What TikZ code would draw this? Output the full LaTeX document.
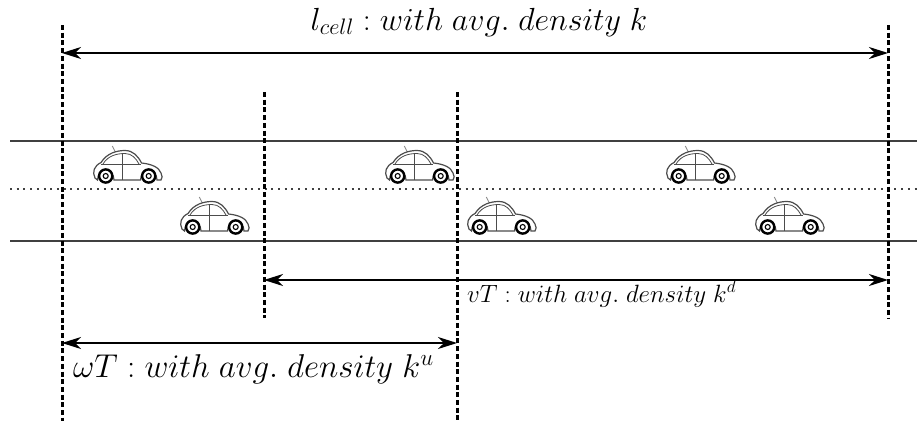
\RequirePackage{fix-cm}
\documentclass[tikz,border=0pt]{standalone}
\usetikzlibrary{arrows.meta}
\begin{document}
\begin{tikzpicture}[x=1pt,y=-1pt,
  road/.style={line width=1.5pt, black!75},
  lanesep/.style={line width=1.5pt, black!75, dash pattern=on 2pt off 4.7pt},
  marker/.style={line width=3pt, dash pattern=on 5pt off 2.7pt},
  span/.style={line width=1.4pt,
    {Stealth[length=19pt,width=12pt,inset=6pt]}-{Stealth[length=19pt,width=12pt,inset=6pt]}},
  lbl/.style={inner sep=0pt},
  carbody/.style={line width=1.2pt, black!70},
  wheel/.style={line width=2.4pt, black, fill=white},
  car/.pic={
    % antenna
    \draw[carbody, black!45, line width=0.9pt] (19.3,1) -- (22.7,7.7);
    % body outline
    \draw[carbody, fill=white] (2,33) .. controls (-1,27) and (1,21) .. (8,17.5)
      .. controls (14,8) and (24,5.5) .. (32,5.5)
      .. controls (40,5.5) and (45,11) .. (48.5,18)
      .. controls (58,19) and (66,22) .. (68,28)
      .. controls (69.5,31) and (69.5,33) .. (68,35) -- (64,35)
      .. controls (64,23) and (47.5,23) .. (47.5,35) -- (21,35)
      .. controls (21,23) and (4.5,23) .. (4.5,35) -- cycle;
    % windows and door
    \draw[carbody, line width=0.8pt] (10,19) .. controls (15,10.5) and (24,8.5) .. (32,8.5)
      .. controls (39,8.5) and (43,13.5) .. (46,19);
    \draw[carbody, line width=0.8pt] (8,19) -- (48,19);
    \draw[carbody, line width=0.8pt] (29,8.5) -- (29,35);
    % wheels
    \draw[wheel] (12.7,31) circle (6.6);
    \draw[line width=1.1pt] (12.7,31) circle (2.5);
    \draw[wheel] (55.7,31) circle (6.6);
    \draw[line width=1.1pt] (55.7,31) circle (2.5);
  }
  ]
\useasboundingbox (0,0) rectangle (917,421);

% road edges and lane separator
\coordinate (rTL) at (10,141);  \coordinate (rTR) at (917,141);
\coordinate (rML) at (10,189);  \coordinate (rMR) at (917,189);
\coordinate (rBL) at (10,241);  \coordinate (rBR) at (917,241);
\draw[road] (rTL) -- (rTR);
\draw[lanesep] (rML) -- (rMR);
\draw[road] (rBL) -- (rBR);

% cars
\pic at (93,145) {car};
\pic at (180,196) {car};
\pic at (385,145) {car};
\pic at (467,196) {car};
\pic at (666,145) {car};
\pic at (755,196) {car};

% vertical boundary markers
\coordinate (A1) at (62,25);   \coordinate (A2) at (62,421);
\coordinate (B1) at (264,92);  \coordinate (B2) at (264,318);
\coordinate (C1) at (457,92);  \coordinate (C2) at (457,421);
\coordinate (D1) at (888,25);  \coordinate (D2) at (888,318);
\draw[marker] (A1) -- (A2);
\draw[marker] (B1) -- (B2);
\draw[marker] (C1) -- (C2);
\draw[marker] (D1) -- (D2);

% spans
\coordinate (cellL) at (62,53);   \coordinate (cellR) at (888,53);
\coordinate (downL) at (264,280); \coordinate (downR) at (888,280);
\coordinate (upL) at (62,343);    \coordinate (upR) at (457,343);
\draw[span] (cellL) -- (cellR);
\draw[span] (downL) -- (downR);
\draw[span] (upL) -- (upR);

% labels
\node[lbl, anchor=base, font=\fontsize{32}{36}\selectfont] (lcell) at (479,30)
  {$l_{cell} : with\; avg.\; density\; k$};
\node[lbl, anchor=base west, font=\fontsize{25}{29}\selectfont] (ldown) at (467,302)
  {$vT : with\; avg.\; density\; k^d$};
\node[lbl, anchor=base west, font=\fontsize{33}{37}\selectfont] (lup) at (73,377)
  {$\omega T : with\; avg.\; density\; k^u$};
\end{tikzpicture}
\end{document}
